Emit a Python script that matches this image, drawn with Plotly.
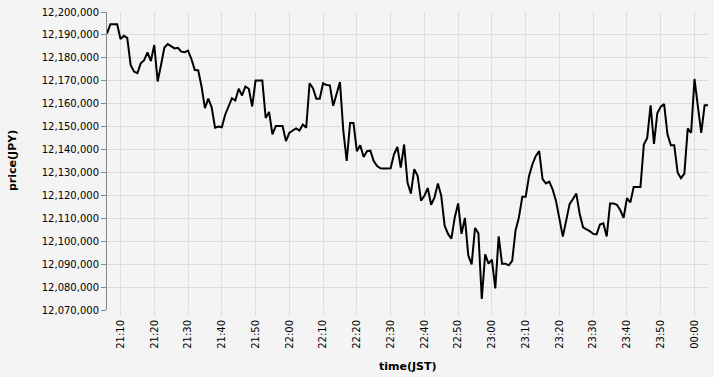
import pandas as pd
import plotly.graph_objects as go

start_time = "2024-01-01 21:06"
prices = [
    12190600, 12194700, 12194700, 12194700, 12188200, 12189600, 12188700, 12176900, 12174000, 12173300,
    12177600, 12179000, 12182400, 12178600, 12185600, 12169700, 12176900, 12184500, 12186000, 12185000,
    12184100, 12184400, 12182700, 12182500, 12183200, 12179500, 12174700, 12174600, 12167500, 12158100,
    12162200, 12158400, 12149500, 12150000, 12149700, 12155200, 12158800, 12162400, 12161400, 12166500,
    12163600, 12167500, 12166500, 12158800, 12170100, 12170100, 12170100, 12153800, 12156400, 12146600,
    12150300, 12150300, 12150300, 12143700, 12147300, 12148300, 12149200, 12148300, 12150900, 12149500,
    12168900, 12166800, 12162200, 12162200, 12168900, 12168100, 12168000, 12159100, 12163900, 12169400,
    12148000, 12135000, 12151600, 12151600, 12139300, 12141900, 12136700, 12139300, 12139500, 12135000,
    12132800, 12131800, 12131700, 12131700, 12131800, 12137900, 12141100, 12132100, 12142200, 12125600,
    12120800, 12131400, 12128500, 12117700, 12119800, 12123200, 12115900, 12119100, 12125200, 12119800,
    12106800, 12103200, 12101100, 12110400, 12116500, 12103200, 12110200, 12093800, 12089900, 12105800,
    12103500, 12074800, 12094300, 12090200, 12092000, 12079400, 12102100, 12090200, 12090200, 12089500,
    12091400, 12104700, 12110400, 12119400, 12119400, 12128500, 12133600, 12137200, 12139300, 12127100,
    12125200, 12126000, 12122500, 12117500, 12109500, 12102000, 12109000, 12116200, 12118400, 12120800,
    12111900, 12106100, 12105200, 12104400, 12103200, 12103000, 12107300, 12107800, 12102100, 12116500,
    12116500, 12115900, 12113600, 12110200, 12118800, 12116900, 12123700, 12123700, 12123700, 12142200,
    12145100, 12159300, 12142500, 12155900, 12158700, 12159800, 12146600, 12141900, 12141900, 12130000,
    12127500, 12129500, 12149200, 12147300, 12170800, 12158800, 12147300, 12159300, 12159300,
]
times = pd.date_range(start_time, periods=len(prices), freq="min")

y_min, y_max, y_step = 12070000, 12200000, 10000

fig = go.Figure(go.Scatter(
    x=times, y=prices, mode="lines",
    line=dict(color="black", width=2),
    hoverinfo="skip",
))

bg = "#f4f4f4"
font = "DejaVu Sans, sans-serif"
fig.update_layout(
    width=714, height=377,
    margin=dict(l=107, r=6, t=10, b=67),
    paper_bgcolor=bg, plot_bgcolor=bg,
    showlegend=False,
    font=dict(family=font, size=10, color="#000"),
    xaxis=dict(
        type="date",
        range=[times[0], times[-1]],
        dtick=600000, tick0="2024-01-01 21:10",
        tickformat="%H:%M", tickangle=-90,
        showgrid=True, gridcolor="#dddddd", gridwidth=1,
        ticks="outside", ticklen=5, tickcolor="#dddddd",
        showline=False, zeroline=False,
        tickfont=dict(family=font, size=10, color="#000"),
    ),
    yaxis=dict(
        range=[y_min, y_max],
        dtick=y_step, tick0=y_min,
        tickformat=",d",
        showgrid=True, gridcolor="#dddddd", gridwidth=1,
        ticks="outside", ticklen=5, tickcolor="#888888",
        showline=True, linecolor="#888888", linewidth=1,
        zeroline=False,
        tickfont=dict(family=font, size=10, color="#000"),
    ),
    annotations=[
        dict(text="<b>time(JST)</b>", xref="paper", yref="paper", x=0.5, y=0,
             yshift=-56, showarrow=False, xanchor="center", yanchor="middle",
             font=dict(family=font, size=11, color="#000")),
        dict(text="<b>price(JPY)</b>", xref="paper", yref="paper", x=0, y=0.5,
             xshift=-95, showarrow=False, xanchor="center", yanchor="middle",
             textangle=-90, font=dict(family=font, size=11, color="#000")),
    ],
)

fig.write_html("out.html")
